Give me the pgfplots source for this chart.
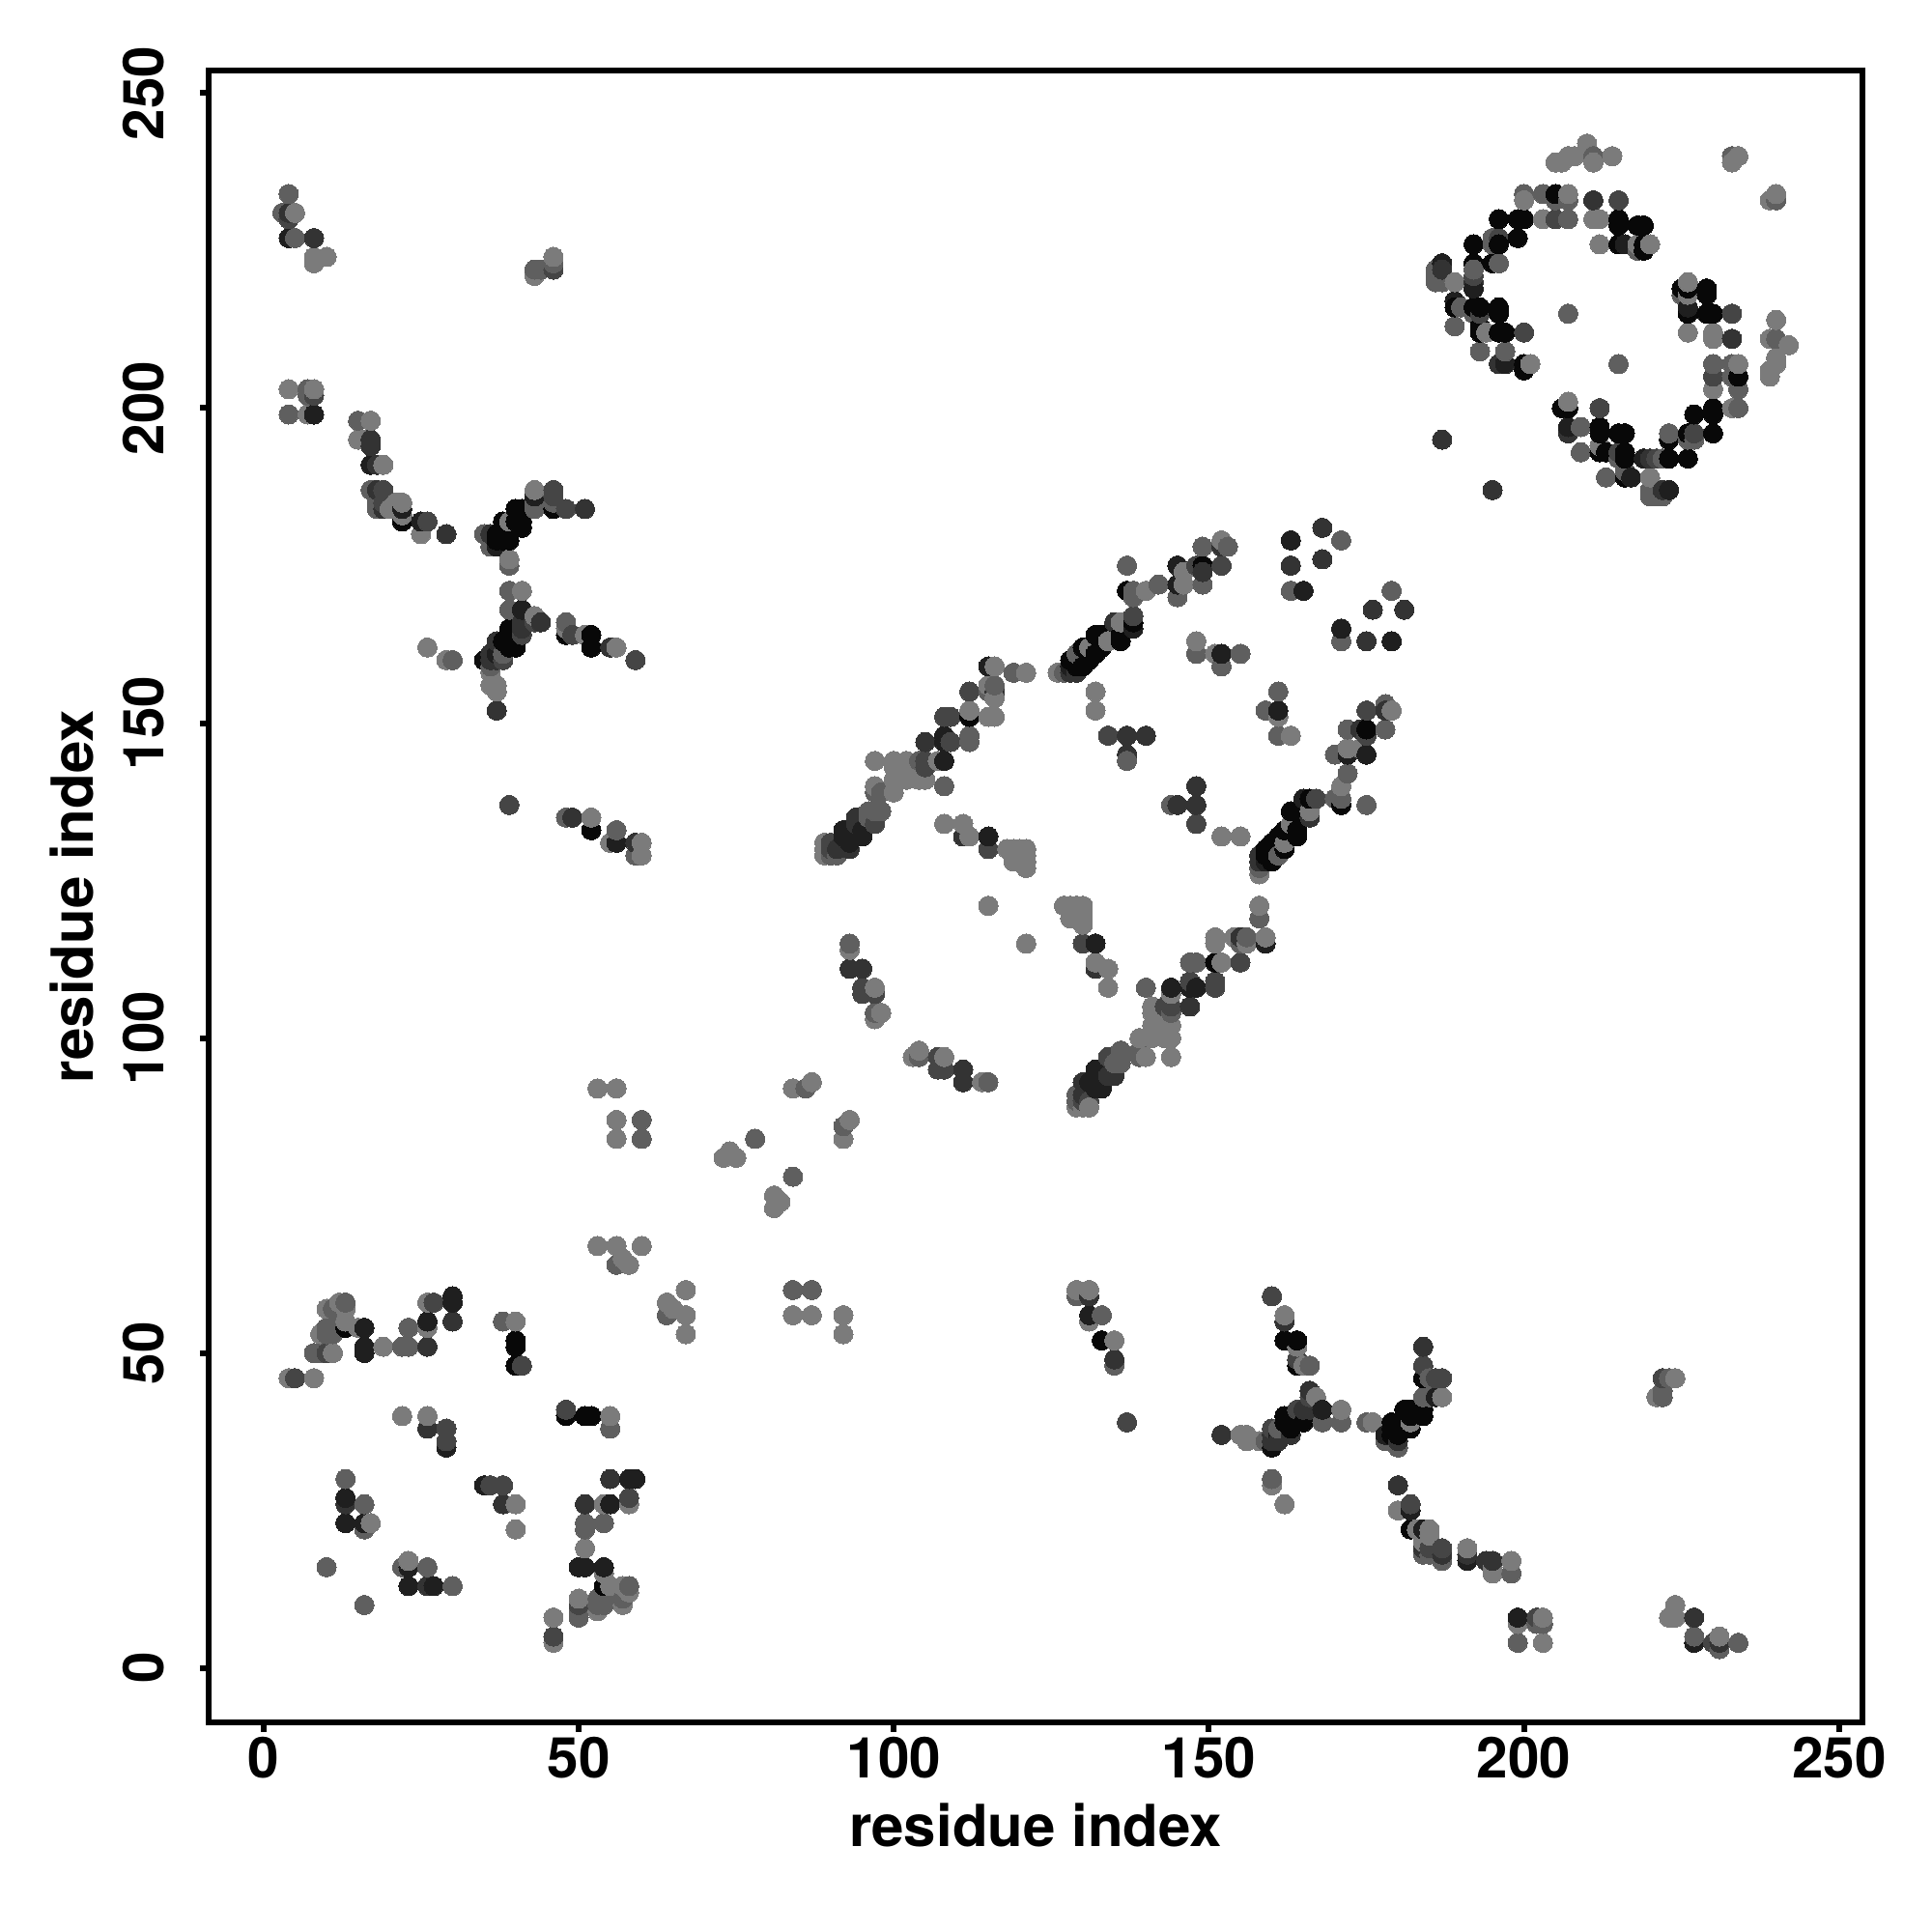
\documentclass[border=0pt]{standalone}
\usepackage{fontspec}
\setmainfont{TeX Gyre Heros}
\usepackage{pgfplots}
\usepackage{pgfplotstable}
\pgfplotsset{compat=1.18}

% contacts i<j, grey level; the plot is symmetric so the other half is j,i
\pgfplotstableread[row sep=\\]{
i j g\\
4 46 .48\\ 5 46 .27\\ 8 46 .48\\ 8 50 .37\\ 9 50 .37\\ 10 50 .27\\ 11 50 .48\\ 16 50 .12\\ 16 51 .12\\ 19 51 .48\\ 22 51 .37\\ 23 51 .37\\ 26 51 .2\\
23 54 .37\\ 26 55 .12\\ 26 54 .48\\ 30 55 .2\\ 26 58 .48\\ 27 58 .27\\ 30 59 .12\\ 30 58 .12\\ 38 55 .37\\ 40 55 .48\\ 40 52 .03\\ 40 51 .03\\ 40 48 .03\\ 41 48 .27\\
9 53 .48\\ 10 57 .48\\ 11 57 .37\\ 12 58 .48\\ 13 58 .37\\ 13 57 .48\\ 10 54 .37\\ 10 53 .37\\ 11 54 .37\\ 11 53 .37\\ 13 55 .48\\ 13 54 .03\\ 15 54 .48\\ 16 54 .12\\
22 40 .48\\ 26 40 .48\\ 26 38 .2\\ 29 38 .27\\ 29 36 .27\\ 29 35 .12\\
13 30 .37\\ 13 27 .12\\ 13 26 .2\\ 16 26 .37\\ 13 23 .12\\ 16 23 .12\\ 16 22 .37\\ 17 23 .48\\ 10 16 .37\\
53 67 .48\\ 56 67 .48\\ 60 67 .48\\ 56 64 .37\\ 57 65 .48\\ 58 64 .48\\ 56 84 .48\\ 60 84 .37\\ 56 87 .48\\ 60 87 .37\\ 53 92 .48\\ 56 92 .48\\
73 81 .48\\ 75 81 .48\\ 74 82 .48\\ 78 84 .37\\ 84 92 .48\\ 86 92 .37\\ 87 93 .48\\
4 234 .37\\ 3 231 .37\\ 4 231 .2\\ 4 230 .27\\ 5 231 .48\\ 4 227 .12\\ 5 227 .37\\ 8 227 .2\\ 8 224 .48\\ 8 223 .48\\ 10 224 .48\\
43 222 .37\\ 43 221 .48\\ 44 222 .37\\ 46 222 .27\\ 46 224 .48\\ 46 223 .37\\
4 203 .48\\ 7 203 .37\\ 8 203 .48\\ 7 202 .37\\ 8 202 .27\\ 4 199 .37\\ 7 199 .48\\ 8 199 .12\\
15 198 .37\\ 17 198 .48\\ 15 195 .48\\ 16 195 .48\\ 17 195 .2\\ 17 194 .2\\ 17 191 .12\\ 18 191 .2\\ 19 191 .48\\
17 187 .37\\ 18 187 .2\\ 19 187 .27\\ 18 184 .37\\ 19 184 .2\\ 20 184 .48\\ 19 185 .27\\ 18 185 .37\\ 21 185 .48\\ 22 185 .48\\ 22 184 .12\\ 22 183 .48\\ 22 182 .03\\
25 182 .12\\ 26 182 .27\\ 25 180 .48\\ 29 180 .2\\
35 180 .37\\ 36 180 .2\\ 37 180 .03\\ 36 178 .37\\ 37 178 .12\\ 37 179 .03\\ 38 179 .03\\ 39 179 .03\\ 38 182 .03\\ 39 181 .03\\ 39 182 .48\\
40 184 .03\\ 41 184 .03\\ 40 182 .03\\ 41 182 .03\\ 41 181 .03\\ 43 187 .48\\ 43 186 .12\\ 43 184 .37\\ 43 185 .37\\ 46 187 .27\\ 46 186 .27\\ 46 184 .03\\ 46 185 .37\\ 48 184 .27\\ 51 184 .2\\
39 176 .48\\ 39 175 .37\\ 39 171 .37\\ 41 171 .48\\ 39 168 .37\\ 41 168 .12\\ 43 167 .48\\ 44 166 .2\\ 43 166 .27\\ 41 166 .2\\ 41 164 .27\\ 41 165 .2\\ 39 165 .03\\ 39 164 .03\\
40 162 .03\\ 39 162 .03\\ 38 163 .03\\ 37 163 .2\\ 38 161 .37\\ 37 161 .12\\ 36 161 .2\\ 35 160 .06\\ 36 160 .2\\ 37 160 .2\\ 38 160 .27\\ 36 159 .37\\ 36 158 .48\\ 36 156 .48\\ 37 156 .48\\ 37 155 .48\\ 37 152 .2\\
26 162 .48\\ 29 160 .48\\ 30 160 .37\\ 48 166 .37\\ 48 165 .48\\ 48 164 .03\\ 49 164 .27\\ 51 164 .48\\ 52 164 .03\\ 52 162 .03\\ 55 162 .2\\ 56 162 .48\\ 59 160 .27\\
39 137 .27\\ 48 135 .37\\ 49 135 .2\\ 52 135 .48\\ 52 133 .03\\ 56 133 .37\\ 55 131 .48\\ 56 131 .12\\ 59 131 .2\\ 60 131 .48\\ 59 129 .37\\ 60 129 .48\\
115 159 .12\\ 116 159 .48\\ 119 158 .37\\ 121 158 .48\\ 112 155 .27\\ 115 156 .48\\ 116 156 .37\\ 115 155 .37\\ 116 155 .2\\ 116 154 .48\\
108 151 .27\\ 109 151 .27\\ 112 152 .48\\ 112 151 .03\\ 115 151 .48\\ 116 151 .48\\ 105 147 .2\\ 108 148 .12\\ 108 147 .12\\ 109 147 .27\\ 112 148 .37\\ 112 147 .37\\
97 144 .48\\ 100 144 .48\\ 102 144 .48\\ 104 144 .37\\ 105 144 .27\\ 105 143 .27\\ 107 144 .48\\ 108 144 .12\\ 100 143 .48\\ 102 142 .48\\ 100 141 .48\\ 102 141 .48\\ 104 141 .48\\ 105 141 .48\\ 108 140 .37\\
97 140 .48\\ 97 139 .37\\ 98 139 .37\\ 100 139 .48\\ 98 136 .37\\ 96 136 .37\\ 97 136 .37\\ 97 134 .27\\ 96 135 .37\\ 94 135 .2\\ 94 134 .2\\ 95 133 .12\\ 92 133 .12\\ 92 132 .12\\ 95 132 .12\\ 93 131 .12\\
90 131 .27\\ 90 130 .27\\ 91 130 .2\\ 93 130 .2\\ 89 131 .48\\ 89 130 .48\\ 89 129 .48\\ 90 129 .37\\ 91 129 .37\\
108 134 .48\\ 111 134 .48\\ 111 132 .2\\ 112 132 .48\\ 115 132 .12\\ 115 130 .27\\ 118 130 .48\\ 119 130 .48\\ 120 130 .48\\ 121 130 .48\\ 119 129 .48\\ 120 129 .48\\ 121 129 .48\\ 119 128 .48\\ 121 128 .48\\ 121 127 .48\\
126 158 .48\\ 127 158 .37\\ 128 158 .2\\ 129 158 .2\\ 128 159 .12\\ 128 160 .03\\ 129 159 .03\\ 129 161 .37\\ 130 159 .03\\ 130 162 .03\\ 131 160 .03\\ 131 162 .48\\ 132 161 .03\\ 132 164 .03\\ 133 162 .03\\ 133 164 .03\\ 134 163 .48\\
135 166 .2\\ 136 164 .03\\ 136 163 .03\\ 136 166 .48\\ 138 165 .12\\ 138 166 .03\\ 138 167 .27\\
132 155 .48\\ 132 152 .48\\ 134 148 .27\\ 137 148 .2\\ 140 148 .2\\ 137 145 .2\\ 137 144 .37\\ 148 163 .48\\ 148 161 .37\\ 151 161 .48\\ 152 161 .12\\ 155 161 .37\\ 152 159 .37\\
163 179 .12\\ 168 181 .2\\ 171 179 .37\\ 163 175 .2\\ 168 176 .2\\ 163 171 .37\\ 165 171 .12\\ 171 165 .12\\ 171 163 .37\\ 175 163 .2\\ 179 163 .12\\
137 175 .37\\ 137 171 .03\\ 138 171 .37\\ 138 170 .37\\ 140 171 .48\\ 142 172 .37\\ 145 175 .12\\ 145 172 .12\\ 145 170 .37\\ 146 174 .48\\ 146 172 .48\\
149 178 .37\\ 148 175 .27\\ 149 175 .03\\ 149 174 .2\\ 149 172 .37\\ 152 175 .27\\ 152 179 .48\\ 153 178 .37\\ 152 178 .2\\
93 115 .37\\ 93 114 .48\\ 93 111 .2\\ 95 111 .2\\ 95 108 .27\\ 95 107 .27\\ 97 108 .48\\ 97 107 .27\\ 97 104 .37\\ 97 103 .48\\ 98 104 .48\\ 115 121 .48\\
205 239 .48\\ 206 239 .48\\ 207 240 .48\\ 208 240 .48\\ 210 242 .48\\ 211 240 .37\\ 211 239 .48\\ 214 240 .48\\ 233 240 .37\\ 234 240 .48\\ 233 239 .48\\
200 234 .37\\ 200 233 .48\\ 203 234 .37\\ 205 234 .03\\ 205 233 .37\\ 207 234 .48\\ 207 233 .37\\ 211 233 .2\\ 215 233 .27\\
196 230 .03\\ 199 230 .03\\ 200 230 .03\\ 203 230 .48\\ 205 230 .27\\ 207 230 .37\\ 211 230 .48\\ 212 230 .48\\ 215 230 .03\\ 215 229 .03\\ 218 229 .03\\ 219 229 .03\\
192 226 .03\\ 195 226 .37\\ 195 227 .37\\ 196 227 .27\\ 196 226 .03\\ 199 227 .03\\ 212 226 .48\\ 215 226 .03\\ 216 226 .12\\ 218 226 .48\\ 219 226 .03\\ 219 225 .03\\ 220 226 .48\\ 218 225 .37\\
187 223 .12\\ 192 223 .03\\ 195 223 .03\\ 196 223 .37\\ 186 222 .37\\ 187 222 .2\\ 186 221 .37\\ 186 220 .37\\ 187 220 .37\\ 189 220 .48\\ 192 222 .37\\ 192 221 .27\\ 192 220 .2\\ 192 219 .12\\
189 217 .12\\ 189 216 .03\\ 190 216 .37\\ 192 216 .03\\ 193 216 .03\\ 193 215 .27\\ 196 216 .03\\ 196 215 .03\\ 192 215 .37\\ 189 213 .37\\ 193 213 .03\\ 193 212 .03\\ 194 212 .48\\ 196 212 .03\\ 197 212 .03\\ 200 212 .27\\
193 209 .37\\ 197 209 .37\\ 196 207 .2\\ 197 207 .12\\ 200 207 .03\\ 200 206 .03\\ 201 207 .48\\ 207 215 .37\\ 187 195 .2\\
}{\halfdata}

\pgfplotstablesort[sort key=k,create on use/k/.style={create col/expr={\thisrow{i}*1000+\thisrow{j}}}]{\upperpts}{\halfdata}
\pgfplotstablesort[sort key=k,create on use/k/.style={create col/expr={\thisrow{j}*1000+\thisrow{i}}}]{\lowerpts}{\halfdata}

\begin{document}
\begin{tikzpicture}
\path[use as bounding box] (-54pt,-54.15pt) rectangle (446pt,445.85pt);
\begin{axis}[
  at={(0pt,0pt)},anchor=south west,
  scale only axis,width=428pt,height=427.6pt,
  xmin=-8.71,xmax=253.7,ymin=-8.7,ymax=253.6,
  xtick={0,50,100,150,200,250},ytick={0,50,100,150,200,250},
  xtick pos=lower,ytick pos=left,tick align=outside,
  major tick length=2.3pt,
  axis line style={line width=1.5pt},
  every tick/.style={black,line width=1.5pt},
  /pgf/number format/assume math mode=true,
  tick label style={font=\fontsize{14.6}{16}\bfseries},
  xticklabel style={inner sep=0pt,anchor=north,yshift=-1.1pt},
  yticklabel style={rotate=90,inner sep=0pt,anchor=south,yshift=9pt},
  label style={font=\fontsize{15}{16}\bfseries},
  xlabel={residue index},ylabel={residue index},
  xlabel style={at={(axis description cs:0.5,0)},anchor=center,yshift=-26.6pt},
  ylabel style={at={(axis description cs:0,0.5)},anchor=center,rotate=0,yshift=35.3pt},
  colormap={greys}{gray(0cm)=(0); gray(1cm)=(1)},
  point meta min=0,point meta max=1,
  scatter/use mapped color={draw=mapped color,fill=mapped color},
]
\addplot[scatter,only marks,scatter src=explicit,mark=*,mark size=2.5pt,mark options={line width=0pt}]
  table[x=i,y=j,meta=g]{\upperpts};
\addplot[scatter,only marks,scatter src=explicit,mark=*,mark size=2.5pt,mark options={line width=0pt}]
  table[x=j,y=i,meta=g]{\lowerpts};
\end{axis}
\end{tikzpicture}
\end{document}
